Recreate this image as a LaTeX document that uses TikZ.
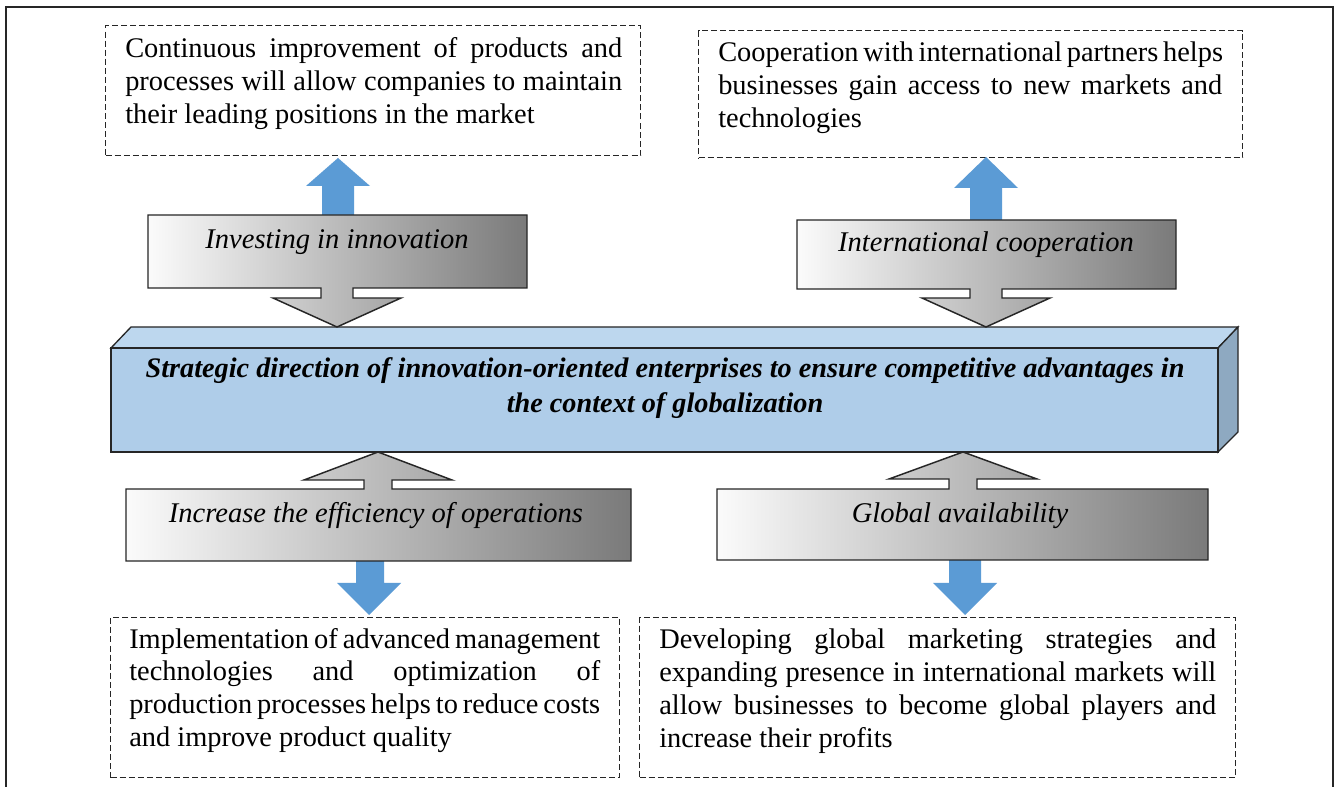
\documentclass[tikz,border=0pt]{standalone}
\usepackage{fontspec}
\setmainfont{Liberation Serif}
\definecolor{bluearrow}{HTML}{5B9BD5}
\definecolor{cfront}{HTML}{AFCDE9}
\definecolor{ctop}{HTML}{BDD7EE}
\definecolor{cside}{HTML}{8EA9C1}
\definecolor{gdark}{HTML}{7A7A7A}
\definecolor{glight}{HTML}{FBFBFB}
\definecolor{edge}{HTML}{262626}
\newcommand{\justline}[2]{\makebox[#1][s]{#2}}
\newcommand{\fontspaces}{\spaceskip=0pt\xspaceskip=0pt\relax}
\tikzset{
  dbox/.style={draw=edge, dash pattern=on 4.5pt off 2.3pt, line width=1pt, inner sep=0pt, anchor=north west},
  bodytext/.style={font=\fontsize{21.3}{24.6}\selectfont, inner sep=0pt, anchor=base west, align=left},
  lbltext/.style={font=\fontsize{21.4}{25}\selectfont\itshape, inner sep=0pt, anchor=base},
  ctrtext/.style={font=\fontsize{21.2}{26.25}\selectfont\bfseries\itshape, inner sep=0pt, align=center, anchor=base},
  callout/.style={left color=glight, right color=gdark, draw=edge, line width=1.1pt},
  bluearr/.style={fill=bluearrow},
}
\begin{document}
\begin{tikzpicture}[x=0.75pt, y=-0.75pt]
\useasboundingbox (0,0) rectangle (1336,787);
\fill[white] (0,0) rectangle (1336,787);
% outer frame
\draw[line width=2pt, edge] (6,787) -- (6,7) -- (1333,7) -- (1333,787);

% dashed boxes
\node[dbox, minimum width=401.25pt, minimum height=97.5pt] (tlbox) at (105,25) {};
\node[dbox, minimum width=408pt, minimum height=95.25pt] (trbox) at (698,30) {};
\node[dbox, minimum width=381.75pt, minimum height=120pt] (blbox) at (110,617) {};
\node[dbox, minimum width=447pt, minimum height=120pt] (brbox) at (639,617) {};

% box texts
\node[bodytext, text width=372.75pt] (tltext) at (125,58) {\fontspaces\justline{372.75pt}{Continuous improvement of products and}\\\justline{372.75pt}{processes will allow companies to maintain}\\their leading positions in the market};
\node[bodytext, text width=378pt] (trtext) at (718,62) {\fontspaces\justline{378pt}{Cooperation with international partners helps}\\\justline{378pt}{businesses gain access to new markets and}\\technologies};
\node[bodytext, text width=353.25pt] (bltext) at (129,648) {\fontspaces\justline{353.25pt}{Implementation of advanced management}\\\justline{353.25pt}{technologies and optimization of}\\\justline{353.25pt}{production processes helps to reduce costs}\\and improve product quality};
\node[bodytext, text width=417.75pt] (brtext) at (659,649) {\fontspaces\justline{417.75pt}{Developing global marketing strategies and}\\\justline{417.75pt}{expanding presence in international markets will}\\\justline{417.75pt}{allow businesses to become global players and}\\increase their profits};

% blue arrows
\fill[bluearr] (338,158) -- (370,186) -- (354,186) -- (354,215) -- (322,215) -- (322,186) -- (306,186) -- cycle;
\fill[bluearr] (986,157) -- (1018,188) -- (1002,188) -- (1002,220) -- (970,220) -- (970,188) -- (954,188) -- cycle;
\fill[bluearr] (356,561) -- (384,561) -- (384,583) -- (401,583) -- (369,615) -- (337,583) -- (356,583) -- cycle;
\fill[bluearr] (949,560) -- (981,560) -- (981,583) -- (997,583) -- (965,615) -- (933,583) -- (949,583) -- cycle;

% central 3D box
\filldraw[fill=ctop, draw=edge, line width=1pt] (111,348) -- (131,327) -- (1238,327) -- (1218,348) -- cycle;
\filldraw[fill=cside, draw=edge, line width=1pt] (1218,348) -- (1238,327) -- (1238,432) -- (1218,452) -- cycle;
\filldraw[fill=cfront, draw=edge, line width=1pt] (111,348) rectangle (1218,452);
\node[ctrtext] (center) at (665,413) {Strategic direction of innovation-oriented enterprises to ensure competitive advantages in\\the context of globalization};

% gray callouts
\shadedraw[callout] (148,215) -- (527,215) -- (527,288) -- (353,288) -- (353,298) -- (401,298) -- (337,327) -- (273,298) -- (321,298) -- (321,288) -- (148,288) -- cycle;
\shadedraw[callout] (797,220) -- (1176,220) -- (1176,289) -- (1002,289) -- (1002,298) -- (1050,298) -- (986,327) -- (922,298) -- (970,298) -- (970,289) -- (797,289) -- cycle;
\shadedraw[callout] (126,489) -- (364,489) -- (364,480) -- (304,480) -- (378,452) -- (452,480) -- (392,480) -- (392,489) -- (631,489) -- (631,561) -- (126,561) -- cycle;
\shadedraw[callout] (717,489) -- (949,489) -- (949,479) -- (889,479) -- (963,452) -- (1037,479) -- (977,479) -- (977,489) -- (1208,489) -- (1208,560) -- (717,560) -- cycle;

\node[lbltext] (invest) at (337,249) {Investing in innovation};
\node[lbltext] (intl) at (986,252) {International cooperation};
\node[lbltext] (effic) at (376,523) {Increase the efficiency of operations};
\node[lbltext] (global) at (960,523) {Global availability};
\end{tikzpicture}
\end{document}
